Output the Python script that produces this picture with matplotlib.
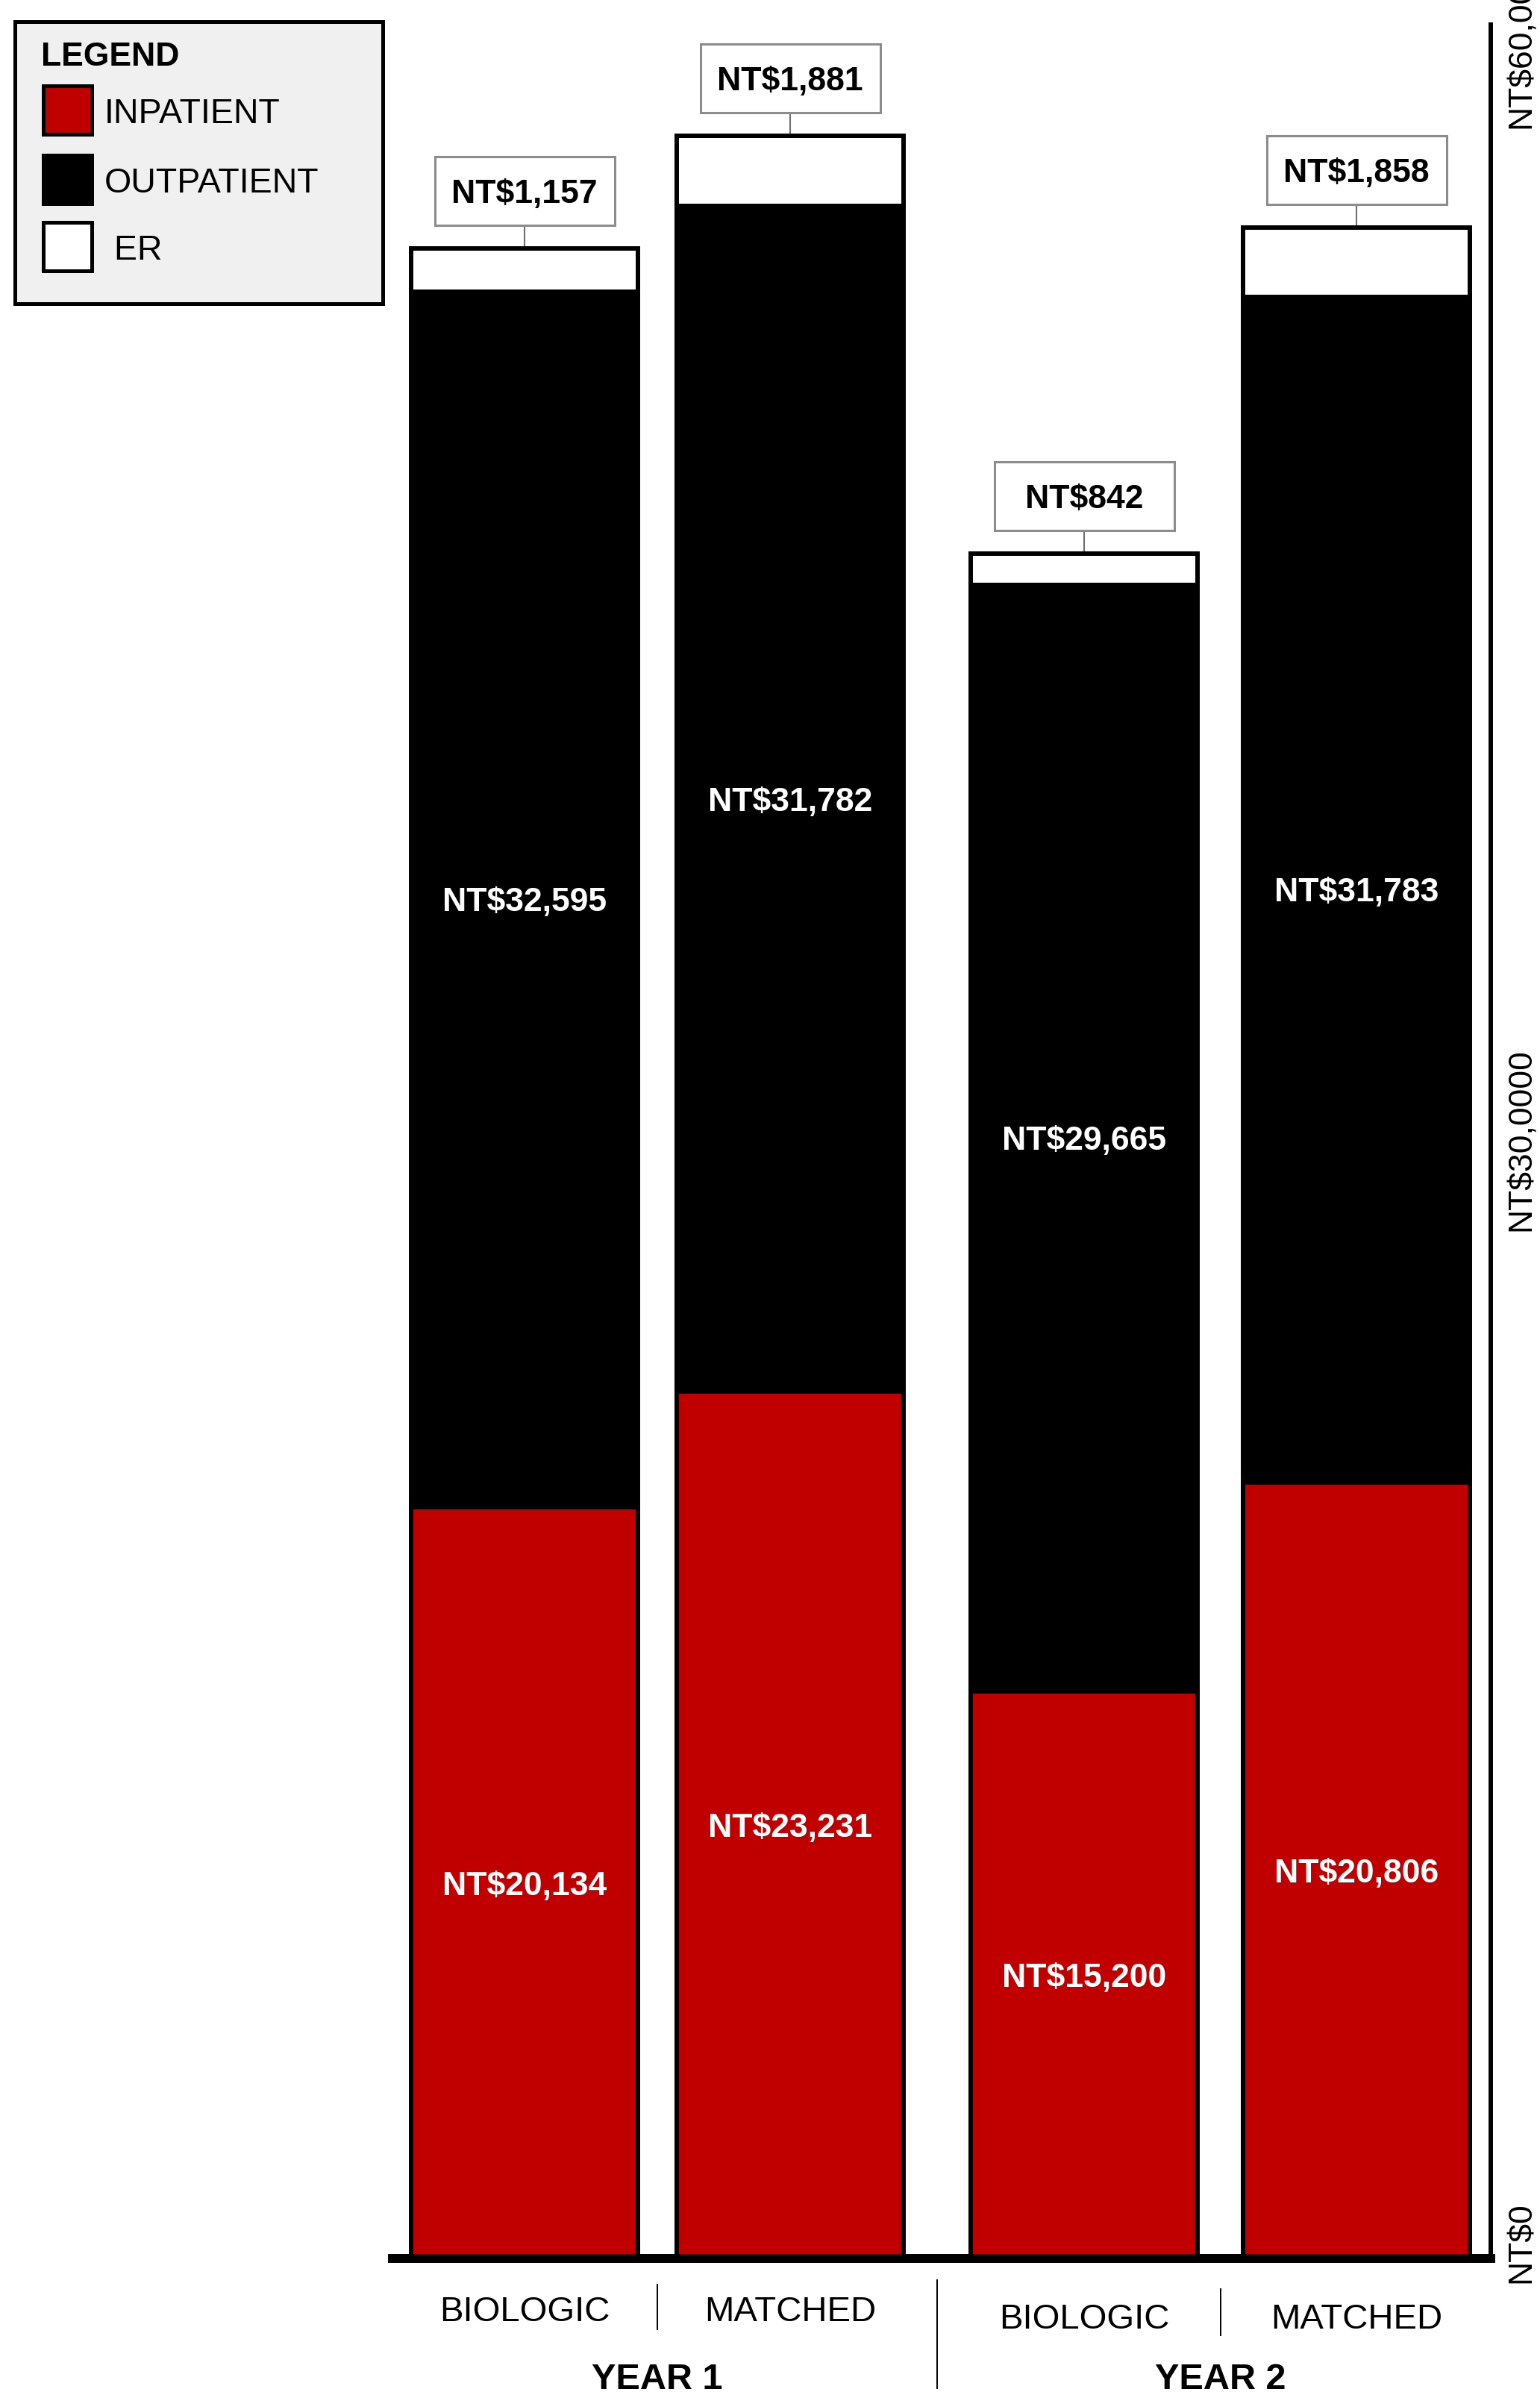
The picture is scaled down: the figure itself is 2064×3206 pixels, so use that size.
import matplotlib
matplotlib.use('Agg')
import matplotlib.pyplot as plt
import matplotlib.transforms as mtransforms
from matplotlib.patches import Rectangle

# --- datos ---
SERIES = ['INPATIENT', 'OUTPATIENT', 'ER']
LEGEND_LABELS = ['INPATIENT', 'OUTPATIENT', ' ER']
GRUPOS = ['BIOLOGIC', 'MATCHED', 'BIOLOGIC', 'MATCHED']
YEARS = ['YEAR 1', 'YEAR 2']
INPATIENT = [20134, 23231, 15200, 20806]
OUTPATIENT = [32595, 31782, 29665, 31783]
ER = [1157, 1881, 842, 1858]
EJE_TICKS = [0, 30000, 60000]
EJE_LABELS = ['NT$0', 'NT$30,0000', 'NT$60,0000']

# --- estilo / layout ---
COLORES = ['#C00000', '#000000', '#FFFFFF']
W, H = 2064, 3206
AX_L, AX_R, AX_T, AX_B = 526, 1998, 33, 3027
X_POS = [1.77, 5.33, 9.27, 12.92]
BAR_W = 3.04
YMAX = 59880
CAT_Y = [3094, 3104]
REG = ['Liberation Sans', 'DejaVu Sans']

fig = plt.figure(figsize=(W / 100, H / 100), dpi=100)
ax = fig.add_axes([AX_L / W, 1 - AX_B / H, (AX_R - AX_L) / W, (AX_B - AX_T) / H])
ax.set_xlim(0, (AX_R - AX_L) / 100)
ax.set_ylim(0, YMAX)
dy = YMAX / (AX_B - AX_T)  # unidades de datos por pixel

# barras apiladas
abajo = [0] * len(X_POS)
for serie, vals, col in zip(SERIES, [INPATIENT, OUTPATIENT, ER], COLORES):
    ax.bar(X_POS, vals, BAR_W, bottom=abajo, color=col, edgecolor='black',
           linewidth=4.3, zorder=2, label=serie)
    if serie != 'ER':
        for x, b, v in zip(X_POS, abajo, vals):
            ax.text(x, b + v / 2, f'NT${v:,}', ha='center', va='center_baseline',
                    color='white', fontsize=32, fontweight='bold', family=REG, zorder=5)
    abajo = [a + v for a, v in zip(abajo, vals)]

# cajas de ER arriba de cada barra
for x, tot, v in zip(X_POS, abajo, ER):
    y0 = tot + 31 * dy
    ax.add_patch(Rectangle((x - 1.205, y0), 2.41, 92 * dy, facecolor='white',
                           edgecolor='#8c8c8c', linewidth=2.2, zorder=3))
    ax.plot([x, x], [tot, y0], color='#6e6e6e', linewidth=1.5, zorder=1)
    ax.text(x, y0 + 46 * dy, f'NT${v:,}', ha='center', va='center_baseline',
            fontsize=32, fontweight='bold', family=REG, zorder=4)

ax.set_xticks([])
ax.set_yticks([])
for s in ['top', 'left', 'right']:
    ax.spines[s].set_visible(False)
ax.spines['bottom'].set_linewidth(8.6)

# eje derecho
ax2 = ax.twinx()
ax2.set_ylim(-426, 60340)
ax2.set_yticks(EJE_TICKS, EJE_LABELS)
ax2.tick_params(axis='y', length=0, pad=15, labelsize=32, labelrotation=90)
for lbl in ax2.get_yticklabels():
    lbl.set_family(REG)
    lbl.set_va('center')
for s in ['top', 'left', 'bottom']:
    ax2.spines[s].set_visible(False)
ax2.spines['right'].set_linewidth(4.3)

# etiquetas de categorias abajo
trans = mtransforms.blended_transform_factory(ax.transData, fig.transFigure)
fy = lambda ypx: 1 - ypx / H
for i, (x, g) in enumerate(zip(X_POS, GRUPOS)):
    ax.text(x, fy(CAT_Y[i // 2]), g, transform=trans, ha='center', va='center_baseline',
            fontsize=34, family=REG)
medios = [(X_POS[0] + X_POS[1]) / 2, (X_POS[2] + X_POS[3]) / 2]
sep_small = [(3062, 3122), (3068, 3130)]
for xm, yr, (ya, yb) in zip(medios, YEARS, sep_small):
    ax.text(xm, fy(3184), yr, transform=trans, ha='center', va='center_baseline',
            fontsize=35, fontweight='bold', family=REG)
    ax.plot([xm, xm], [fy(ya), fy(yb)], transform=trans, color='black', lw=1.4, clip_on=False)
xg = (X_POS[1] + X_POS[2]) / 2
ax.plot([xg, xg], [fy(3056), fy(3201)], transform=trans, color='black', lw=1.4, clip_on=False)

# leyenda (caja a mano)
lax = fig.add_axes([20 / W, 1 - 407 / H, 493 / W, 378 / H])
lax.set_xlim(0, 493)
lax.set_ylim(378, 0)
lax.set_facecolor('#f0f0f0')
lax.set_xticks([])
lax.set_yticks([])
for s in lax.spines.values():
    s.set_linewidth(3.6)
lax.text(35, 43, 'LEGEND', ha='left', va='center_baseline', fontsize=32,
         fontweight='bold', family=REG)
filas_y = [86, 179, 269]
for yy, lab, col in zip(filas_y, LEGEND_LABELS, COLORES):
    lax.add_patch(Rectangle((38, yy), 65, 65, facecolor=col, edgecolor='black', linewidth=3.6))
    lax.text(120, yy + 33, lab, ha='left', va='center_baseline', fontsize=33.5, family=REG)

fig.savefig('out.png', dpi=100)
